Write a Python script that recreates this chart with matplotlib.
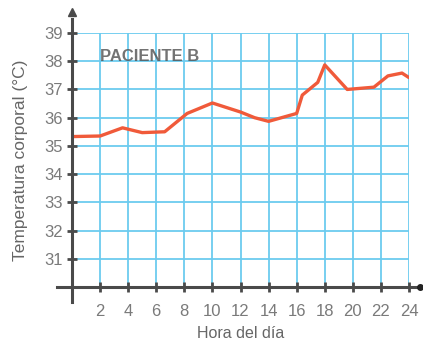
import matplotlib.pyplot as plt
import numpy as np

# Data
hours = [0, 2, 3.6, 5, 6.6, 8.2, 10, 12, 13, 14, 16, 16.4, 17.5, 18, 19.6, 21.5, 22.5, 23.5, 24]
temps = [35.33, 35.35, 35.64, 35.47, 35.5, 36.15, 36.52, 36.2, 36.0, 35.87, 36.15, 36.8,
         37.25, 37.87, 37.0, 37.08, 37.48, 37.58, 37.42]
x_ticks = list(range(2, 25, 2))
y_ticks = list(range(31, 40))

plt.rcParams['font.family'] = ['Liberation Sans', 'DejaVu Sans']

fig = plt.figure(figsize=(4.23, 3.42), dpi=100)
ax = fig.add_axes([72 / 423, 55 / 342, 337 / 423, 254 / 342])
ax.set_xlim(0, 24)
ax.set_ylim(30, 39)

# light blue grid
grid_col = '#6ccbef'
for x in x_ticks:
    ax.axvline(x, ymin=0, ymax=1, color=grid_col, lw=1.3, zorder=1)
for y in y_ticks:
    ax.axhline(y, color=grid_col, lw=1.3, zorder=1)

# temperature curve
ax.plot(hours, temps, color='#f05a3a', lw=2.4, solid_capstyle='round',
        solid_joinstyle='round', zorder=3)

# axes drawn by hand, extending past the grid
axis_col = '#4a4a4a'
ax.plot([-1.05, 24.75], [30, 30], color=axis_col, lw=2.2, clip_on=False, zorder=4)
ax.plot([0, 0], [29.47, 39.5], color=axis_col, lw=2.2, clip_on=False, zorder=4)
ax.plot([0], [39.75], marker='^', color=axis_col, ms=6, clip_on=False, zorder=4)
ax.plot([24.75], [30], marker='o', color='#222222', ms=4, clip_on=False, zorder=4)

for s in ax.spines.values():
    s.set_visible(False)

ax.set_xticks(x_ticks)
ax.set_yticks(y_ticks)
ax.tick_params(direction='inout', length=7, width=2, color=axis_col,
               labelsize=12, labelcolor='#7a7a7a')
ax.tick_params(axis='x', pad=9)
ax.tick_params(axis='y', pad=3)

ax.text(2.0, 38.15, 'PACIENTE B', fontsize=12, color='#505050', va='center',
        fontweight='bold', alpha=0.8)

ax.set_xlabel('Hora del día', fontsize=11.5, color='#666666', labelpad=5)
ax.set_ylabel('Temperatura corporal (°C)', fontsize=12.5, color='#666666', labelpad=12)

fig.savefig('out.png', dpi=100)
